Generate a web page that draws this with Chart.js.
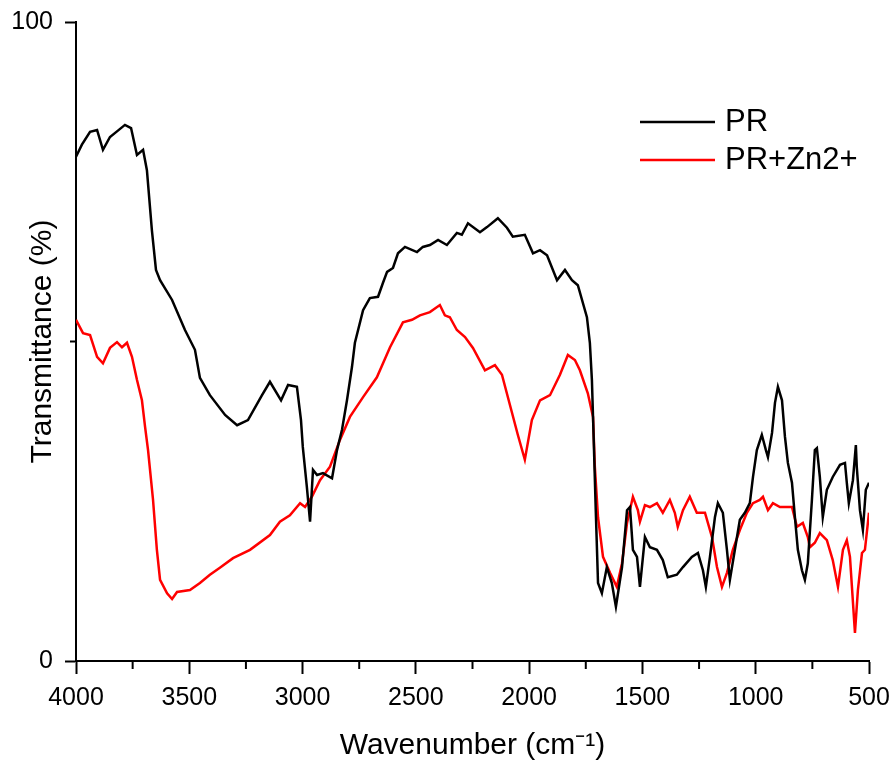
<!DOCTYPE html>
<html>
<head>
<meta charset="utf-8">
<script src="https://cdn.jsdelivr.net/npm/chart.js@4.4.1/dist/chart.umd.min.js"></script>
<style>
  html, body { margin:0; padding:0; background:#fff; }
  #wrap { width:896px; height:774px; }
</style>
</head>
<body>
<div id="wrap"><canvas id="ftir"></canvas></div>
<script>
// ── DATA ─────────────────────────────────────────────────────────
const prWave  = [4000,3974,3938,3907,3881,3850,3815,3784,3757,3731,3704,3687,3665,3647,3629,3576,3519,3475,3453,3409,3342,3289,3241,3179,3144,3095,3064,3025,3007,2999,2981,2967,2954,2936,2910,2870,2848,2826,2804,2782,2769,2733,2703,2667,2645,2627,2601,2579,2548,2495,2469,2438,2402,2363,2319,2297,2270,2217,2186,2138,2098,2072,2019,1983,1952,1921,1877,1842,1811,1785,1745,1732,1723,1715,1706,1696,1679,1657,1635,1617,1590,1568,1555,1542,1524,1511,1489,1467,1436,1410,1388,1348,1321,1282,1255,1233,1220,1202,1180,1167,1145,1127,1114,1092,1070,1048,1026,1012,995,973,955,946,928,915,902,884,871,858,840,827,814,796,783,770,752,739,730,717,704,686,660,628,606,598,589,571,558,554,540,527,514,500];
const prTrans = [78.9,80.8,82.8,83.1,80.0,82.0,83.0,83.9,83.4,79.2,80.0,76.8,67.4,61.2,59.6,56.5,51.8,48.7,44.3,41.6,38.5,36.9,37.7,41.6,43.7,40.8,43.2,42.9,37.7,33.5,27.2,21.8,29.9,29.1,29.4,28.6,33.0,36.2,40.8,46.0,49.8,54.9,56.8,57.0,59.2,60.9,61.5,63.8,64.8,64.0,64.8,65.1,65.9,65.1,67.0,66.7,68.5,67.1,67.9,69.3,67.8,66.4,66.7,63.8,64.3,63.5,59.6,61.2,59.6,58.8,53.8,49.8,44.0,34.6,23.6,12.2,10.6,14.7,12.2,8.5,14.7,23.6,24.1,17.4,16.3,11.6,19.4,17.8,17.4,15.8,13.1,13.5,14.7,16.3,16.9,14.2,11.6,16.3,22.5,24.7,23.2,17.4,12.7,17.4,22.1,23.2,24.7,28.8,33.0,35.4,33.0,31.9,35.7,40.4,42.9,40.8,35.1,31.0,27.9,22.5,17.4,14.2,12.7,15.3,25.2,33.0,33.3,28.8,22.5,26.8,28.8,30.7,31.0,27.9,24.7,28.3,33.8,30.4,23.6,20.5,26.8,27.9];

const znWave  = [4000,3969,3938,3907,3881,3850,3819,3797,3775,3753,3731,3709,3695,3682,3660,3643,3629,3598,3576,3554,3497,3453,3409,3365,3307,3232,3144,3100,3056,3011,2989,2959,2923,2879,2835,2791,2733,2672,2614,2557,2517,2482,2438,2394,2372,2350,2319,2283,2248,2195,2151,2120,2085,2050,2019,1988,1952,1908,1864,1829,1798,1776,1741,1718,1710,1696,1674,1643,1613,1590,1568,1542,1520,1511,1489,1467,1436,1410,1379,1357,1344,1321,1291,1260,1224,1193,1171,1149,1127,1101,1070,1039,1012,982,968,946,924,893,862,840,818,792,770,761,739,717,686,660,637,615,598,584,562,549,531,518,500];
const znTrans = [53.4,51.3,51.0,47.6,46.6,49.0,49.9,49.1,49.8,47.6,44.0,40.8,36.6,33.0,25.2,17.4,12.7,10.6,9.7,10.8,11.1,12.2,13.5,14.6,16.1,17.4,19.7,21.8,22.8,24.7,24.1,25.7,28.3,30.4,34.6,38.2,41.3,44.4,49.1,53.0,53.4,54.1,54.6,55.7,54.1,53.8,51.8,50.7,49.0,45.5,46.3,44.8,40.1,35.4,31.5,37.7,40.8,41.6,44.8,47.9,47.1,45.5,41.9,38.2,30.4,22.5,16.3,13.8,11.6,15.3,21.6,25.7,23.6,21.8,24.4,24.1,24.7,23.2,25.2,23.2,21.0,23.6,25.7,23.2,23.2,19.4,14.7,11.6,13.8,17.4,20.5,23.2,24.7,25.2,25.7,23.6,24.7,24.1,24.1,24.1,21.0,21.6,19.4,17.8,18.5,20.0,18.9,15.8,11.6,17.4,18.9,16.3,4.4,11.1,16.9,17.4,23.2];

const seriesLabels = ['PR', 'PR+Zn2+'];
const xMinorTicks = [3750,3250,2750,2250,1750,1250,750];
const yMinorTicks = [50];

const FONT = '"Liberation Sans", Arial, sans-serif';

const toPts = (xs, ys) => xs.map((x, i) => ({ x, y: ys[i] }));

// minor ticks (shorter) on both axes
const minorTicks = {
  id: 'minorTicks',
  afterDraw(chart) {
    const { ctx, scales: { x, y } } = chart;
    ctx.save();
    ctx.strokeStyle = '#000';
    ctx.lineWidth = 2;
    xMinorTicks.forEach(v => {
      const px = x.getPixelForValue(v);
      ctx.beginPath(); ctx.moveTo(px, x.top); ctx.lineTo(px, x.top + 8); ctx.stroke();
    });
    yMinorTicks.forEach(v => {
      const py = y.getPixelForValue(v);
      ctx.beginPath(); ctx.moveTo(y.right, py); ctx.lineTo(y.right - 6, py); ctx.stroke();
    });
    ctx.restore();
  }
};

// legend drawn inside the plot, top right
const insideLegend = {
  id: 'insideLegend',
  afterDraw(chart) {
    const ctx = chart.ctx;
    ctx.save();
    ctx.font = '31px ' + FONT;
    ctx.textBaseline = 'middle';
    chart.data.datasets.forEach((ds, i) => {
      const yy = 122 + i * 38;
      ctx.strokeStyle = ds.borderColor;
      ctx.lineWidth = 2.5;
      ctx.beginPath(); ctx.moveTo(640, yy); ctx.lineTo(715, yy); ctx.stroke();
      ctx.fillStyle = '#000';
      ctx.fillText(ds.label, 725, yy);
    });
    ctx.restore();
  }
};

new Chart(document.getElementById('ftir'), {
  type: 'line',
  data: {
    datasets: [
      { label: seriesLabels[0], data: toPts(prWave, prTrans), borderColor: '#000000', borderWidth: 2.5, pointRadius: 0, tension: 0 },
      { label: seriesLabels[1], data: toPts(znWave, znTrans), borderColor: '#ff0000', borderWidth: 2.5, pointRadius: 0, tension: 0 }
    ]
  },
  options: {
    responsive: true, maintainAspectRatio: false, animation: false,
    layout: { padding: { top: 22, right: 27, left: 0, bottom: 0 } },
    plugins: { legend: { display: false }, tooltip: { enabled: false } },
    scales: {
      x: {
        type: 'linear', min: 500, max: 4000, reverse: true,
        afterFit: s => { s.height = 113; s.paddingLeft = 0; s.paddingRight = 0; },
        ticks: { stepSize: 500, color: '#000', padding: 9, font: { family: FONT, size: 25 }, maxRotation: 0, callback: v => String(v) },
        grid: { display: true, drawOnChartArea: false, drawTicks: true, tickLength: 13, tickWidth: 2, tickColor: '#000' },
        border: { display: true, color: '#000', width: 2 },
        title: { display: true, text: 'Wavenumber (cm\u207B\u00B9)', color: '#000', font: { family: FONT, size: 30 }, padding: { top: 0, bottom: 10 } }
      },
      y: {
        type: 'linear', min: 0, max: 100,
        afterFit: s => { s.width = 76; s.paddingTop = 0; s.paddingBottom = 0; },
        ticks: { stepSize: 100, color: '#000', padding: 12, font: { family: FONT, size: 25 }, callback: v => String(v) },
        grid: { display: true, drawOnChartArea: false, drawTicks: true, tickLength: 11, tickWidth: 2, tickColor: '#000' },
        border: { display: true, color: '#000', width: 2 },
        title: { display: true, text: 'Transmittance (%)', color: '#000', font: { family: FONT, size: 30 }, padding: { top: 25, bottom: 0 } }
      }
    }
  },
  plugins: [minorTicks, insideLegend]
});
</script>
</body>
</html>
